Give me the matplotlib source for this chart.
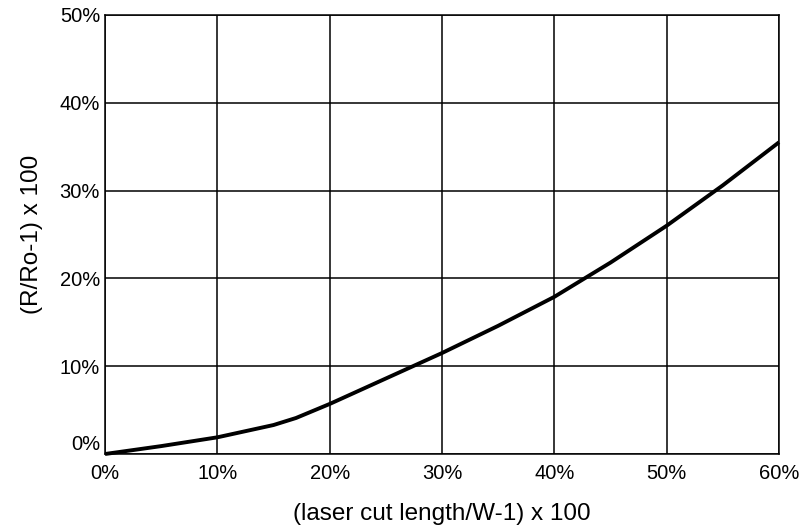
import matplotlib
matplotlib.use("Agg")
import matplotlib.pyplot as plt
import numpy as np

plt.rcParams['font.family'] = ['Liberation Sans', 'DejaVu Sans']

cut_pct = [0, 5, 10, 15, 17, 20, 25, 30, 35, 40, 45, 50, 55, 60]
r_pct = [0, 0.9, 1.9, 3.3, 4.1, 5.7, 8.6, 11.5, 14.6, 17.9, 21.8, 26.0, 30.6, 35.5]
x_ticks = [0, 10, 20, 30, 40, 50, 60]
y_ticks = [0, 10, 20, 30, 40, 50]

fig = plt.figure(figsize=(8.06, 5.31), dpi=100)
ax = fig.add_axes([0.1303, 0.145, 0.9665 - 0.1303, 0.9718 - 0.145])
ax.plot(cut_pct, r_pct, color='black', lw=2.8, solid_capstyle='butt', clip_on=False, zorder=3)
ax.set_xlim(0, 60)
ax.set_ylim(0, 50)
ax.set_xticks(x_ticks)
ax.set_yticks(y_ticks)
ax.set_xticklabels([f"{v}%" for v in x_ticks], fontsize=14.5)
ax.set_yticklabels([f"{v}%" for v in y_ticks], fontsize=14.5)
ylabs = ax.get_yticklabels()
ylabs[0].set_verticalalignment('bottom')
ax.tick_params(length=0, pad=3.6)
ax.tick_params(axis='x', pad=7.5)
ax.grid(True, color='black', lw=1.1)
ax.set_axisbelow(True)
for s in ax.spines.values():
    s.set_linewidth(1.1)
ax.set_xlabel("(laser cut length/W-1) x 100", fontsize=17.5, labelpad=14)
ax.set_ylabel("(R/Ro-1) x 100", fontsize=17.5, labelpad=12)
fig.savefig("out.png", dpi=100)
